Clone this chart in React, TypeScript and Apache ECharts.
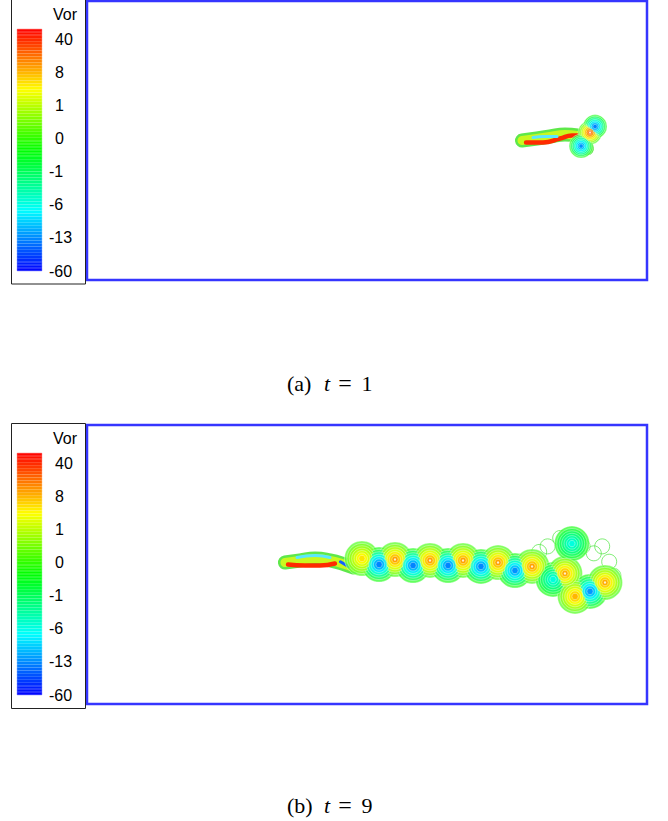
import React, { useEffect, useRef } from 'react';
import * as echarts from 'echarts';

// ---------- data ----------
const tickValues = [-60, -13, -6, -1, 0, 1, 8, 40];
const tickLabels = ['-60', '-13', '-6', '-1', '0', '1', '8', '40'];
const legendTitle = 'Vor';
const bandCount = 80;

// panel (a) t = 1  — wake geometry in domain units (x 0..40, y -10..10)
const snakeOuterA = [[31.07, 0.0], [32.14, 0.14], [33.07, 0.29], [34.14, 0.43], [35.0, 0.36], [35.5, -0.07], [35.71, -0.57]];
const snakeRedA = [[31.36, -0.14], [32.57, -0.14], [33.79, 0.14], [34.64, 0.36], [35.07, 0.36]];
const snakeCyanA = [[31.86, 0.21], [32.71, 0.29], [33.57, 0.29]];
const snakeBlueA = [[35.2, -0.1], [35.3, -0.55]];
const vortexA = [[35.93, 0.57, 30], [36.29, 1.0, -20], [35.29, -0.4, -15]];
const wispA: number[][] = [];

// panel (b) t = 9
const snakeOuterB = [[14.14, 0.14], [15.21, 0.29], [16.29, 0.43], [17.36, 0.29], [18.43, 0.0], [19.0, -0.21]];
const snakeRedB = [[14.36, 0.0], [15.57, -0.07], [16.64, -0.07], [17.71, 0.07]];
const snakeCyanB = [[15.0, 0.5], [16.29, 0.64], [17.36, 0.5]];
const snakeBlueB = [[18.1, 0.2], [18.7, -0.15]];
const vortexB = [
  [19.64, 0.43, 6], [20.86, 0.0, -20], [22.0, 0.36, 15], [23.29, -0.07, -20],
  [24.5, 0.29, 15], [25.79, -0.07, -20], [26.86, 0.29, 15], [28.14, -0.14, -18],
  [29.36, 0.14, 15], [30.57, -0.43, -15], [31.79, -0.14, 15], [33.29, -1.07, -6],
  [34.14, -0.64, 12], [34.64, 1.5, -6], [35.93, -1.93, -13], [37.0, -1.29, 12],
  [34.86, -2.29, 10],
];
const wispB = [[32.9, 1.3], [33.8, 1.9], [35.4, 1.3], [36.2, 0.8], [37.3, 0.2], [32.3, 0.9], [36.8, 1.3], [37.6, -0.8]];

const captionLabels = ['(a)', '(b)'];
const captionTimes = ['1', '9'];

// ---------- colour helpers ----------
const TF = 33.14 / 242;
function valueToF(v: number): number {
  if (v <= tickValues[0]) return 0;
  const last = tickValues.length - 1;
  if (v >= tickValues[last]) return Math.min(1, last * TF + ((v - tickValues[last]) / 40) * (1 - last * TF));
  for (let k = 0; k < last; k++) {
    if (v >= tickValues[k] && v <= tickValues[k + 1]) {
      return (k + (v - tickValues[k]) / (tickValues[k + 1] - tickValues[k])) * TF;
    }
  }
  return 0.5;
}
function rainbowRGB(f: number): number[] {
  f = Math.max(0, Math.min(1, f));
  if (f < 0.25) return [0, 255 * f * 4, 255];
  if (f < 0.5) return [0, 255, 255 * (1 - (f - 0.25) * 4)];
  if (f < 0.75) return [255 * (f - 0.5) * 4, 255, 0];
  return [255, 255 * (1 - (f - 0.75) * 4), 0];
}
function toHex(c: number[]): string {
  return '#' + c.map((x) => Math.round(Math.max(0, Math.min(255, x))).toString(16).padStart(2, '0')).join('');
}
function rainbow(f: number, white = 0): string {
  const c = rainbowRGB(f);
  return toHex(c.map((x) => x + (255 - x) * white));
}

// ---------- builders ----------
function ringData(vort: number[][], D: number, nR: number) {
  const out: any[] = [];
  for (let i = 0; i < nR; i++) {
    const t = i / (nR - 1);
    for (const [x, y, v] of vort) {
      const fc = valueToF(v);
      const f0 = v >= 0 ? valueToF(0.05) : valueToF(-0.3);
      const f = f0 + (fc - f0) * Math.pow(t, 0.8);
      out.push({
        value: [x, y],
        symbolSize: D * (1 - 0.82 * t),
        itemStyle: {
          color: rainbow(f, 0.22 * Math.pow(1 - t, 2)),
          borderColor: 'rgba(255,255,255,0.65)',
          borderWidth: 0.7,
        },
      });
    }
  }
  for (const [x, y, v] of vort) {
    if (v >= 12) out.push({ value: [x, y], symbolSize: 2.4, itemStyle: { color: '#ffffff', borderWidth: 0 } });
  }
  return out;
}

function panelSeries(idx: number, s: any) {
  const common = { type: 'line', xAxisIndex: idx, yAxisIndex: idx, smooth: 0.5, symbol: 'none', showSymbol: false, silent: true };
  const lw = (w: number) => w * s.scale;
  return [
    { ...common, data: s.outer, z: 2, lineStyle: { width: lw(14), color: '#5ee84a', cap: 'round', join: 'round' } },
    { ...common, data: s.outer, z: 3, lineStyle: { width: lw(9), color: '#c8f820', cap: 'round', join: 'round' } },
    { ...common, data: s.red, z: 4, lineStyle: { width: lw(4.5), color: '#ff2a00', cap: 'round', join: 'round' } },
    { ...common, data: s.cyan, z: 4, lineStyle: { width: lw(3), color: '#5ae8ff', cap: 'round', join: 'round' } },
    { ...common, data: s.blue, z: 4, lineStyle: { width: lw(3), color: '#1060ff', cap: 'round', join: 'round' } },
    {
      type: 'scatter', xAxisIndex: idx, yAxisIndex: idx, z: 5, silent: true,
      data: s.wisp, symbolSize: 15,
      itemStyle: { color: 'rgba(0,0,0,0)', borderColor: '#4ee640', borderWidth: 0.9 },
    },
    {
      type: 'scatter', xAxisIndex: idx, yAxisIndex: idx, z: 6, silent: true,
      data: ringData(s.vort, s.D, 7),
    },
  ];
}

export default function App() {
  const ref = useRef<HTMLDivElement>(null);
  useEffect(() => {
    document.body.style.margin = '0';
    const chart = echarts.init(ref.current!, null, { renderer: 'svg' });
    const font = 'Liberation Sans, Arial, sans-serif';
    const serif = 'Liberation Serif, Times New Roman, serif';
    const panelTop = [1, 425];
    const cbarTop = [29, 453];
    const boxTop = [-1, 423.5];
    const capY = [383, 805];

    const grids: any[] = [
      { left: 87, top: panelTop[0], width: 560, height: 279, show: true, borderColor: '#3535ff', borderWidth: 2.5, backgroundColor: '#fff' },
      { left: 87, top: panelTop[1], width: 560, height: 279, show: true, borderColor: '#3535ff', borderWidth: 2.5, backgroundColor: '#fff' },
      { left: 17, top: cbarTop[0], width: 25, height: 242 },
      { left: 17, top: cbarTop[1], width: 25, height: 242 },
    ];
    const xAxes: any[] = [
      { gridIndex: 0, type: 'value', min: 0, max: 40, show: false },
      { gridIndex: 1, type: 'value', min: 0, max: 40, show: false },
      { gridIndex: 2, type: 'value', min: 0, max: 1, show: false },
      { gridIndex: 3, type: 'value', min: 0, max: 1, show: false },
    ];
    const bandCats = Array.from({ length: bandCount }, (_, i) => String(i));
    const labelAxis = (g: number, neg: boolean) => ({
      gridIndex: g, type: 'value', min: 0, max: 242 / 33.14, interval: 1, position: 'right', offset: 0,
      axisLine: { show: false }, axisTick: { show: false }, splitLine: { show: false },
      axisLabel: {
        show: true, margin: neg ? 7 : 13, align: 'left', color: '#000', fontSize: 16, fontFamily: font,
        formatter: (v: number) => {
          const k = Math.round(v);
          if (Math.abs(v - k) > 1e-6 || k < 0 || k >= tickLabels.length) return '';
          return (tickValues[k] < 0) === neg ? tickLabels[k] : '';
        },
      },
    });
    const yAxes: any[] = [
      { gridIndex: 0, type: 'value', min: -10, max: 10, show: false },
      { gridIndex: 1, type: 'value', min: -10, max: 10, show: false },
      { gridIndex: 2, type: 'category', data: bandCats, show: false },
      { gridIndex: 3, type: 'category', data: bandCats, show: false },
      labelAxis(2, false), labelAxis(2, true), labelAxis(3, false), labelAxis(3, true),
    ];
    const bandData = bandCats.map((_, i) => {
      const c = rainbow((i + 0.5) / bandCount);
      return { value: 1, itemStyle: { color: c, borderColor: c, borderWidth: 0.4 } };
    });
    const cbarSeries = [2, 3].map((g) => ({
      type: 'bar', xAxisIndex: g, yAxisIndex: g, data: bandData, barCategoryGap: '0%', barWidth: '100%', silent: true,
    }));

    const series: any[] = [
      ...panelSeries(0, { outer: snakeOuterA, red: snakeRedA, cyan: snakeCyanA, blue: snakeBlueA, vort: vortexA, wisp: wispA, D: 24, scale: 1 }),
      ...panelSeries(1, { outer: snakeOuterB, red: snakeRedB, cyan: snakeCyanB, blue: snakeBlueB, vort: vortexB, wisp: wispB, D: 35, scale: 1 }),
      ...cbarSeries,
    ];

    const graphic: any[] = [];
    [0, 1].forEach((p) => {
      graphic.push({
        type: 'rect', shape: { x: 11.5, y: boxTop[p], width: 74, height: 285 }, silent: true,
        style: { fill: 'none', stroke: '#222', lineWidth: 1 }, z: 10,
      });
      graphic.push({
        type: 'text', x: 53, y: boxTop[p] + 15, z: 10,
        style: { text: legendTitle, fill: '#000', font: `16px ${font}`, textAlign: 'left', textVerticalAlign: 'middle' },
      });
      const y = capY[p];
      graphic.push({ type: 'text', x: 287, y, style: { text: captionLabels[p], fill: '#000', font: `22px ${serif}`, textAlign: 'left', textVerticalAlign: 'middle' } });
      graphic.push({ type: 'text', x: 327, y, style: { text: 't', fill: '#000', font: `italic 22px ${serif}`, textAlign: 'center', textVerticalAlign: 'middle' } });
      graphic.push({ type: 'text', x: 345, y, style: { text: '=', fill: '#000', font: `24px ${serif}`, textAlign: 'center', textVerticalAlign: 'middle' } });
      graphic.push({ type: 'text', x: 367, y, style: { text: captionTimes[p], fill: '#000', font: `22px ${serif}`, textAlign: 'center', textVerticalAlign: 'middle' } });
    });

    chart.setOption({
      animation: false,
      backgroundColor: '#fff',
      grid: grids,
      xAxis: xAxes,
      yAxis: yAxes,
      series,
      graphic,
    });
    return () => chart.dispose();
  }, []);
  return <div ref={ref} style={{ width: 668, height: 821 }} />;
}
